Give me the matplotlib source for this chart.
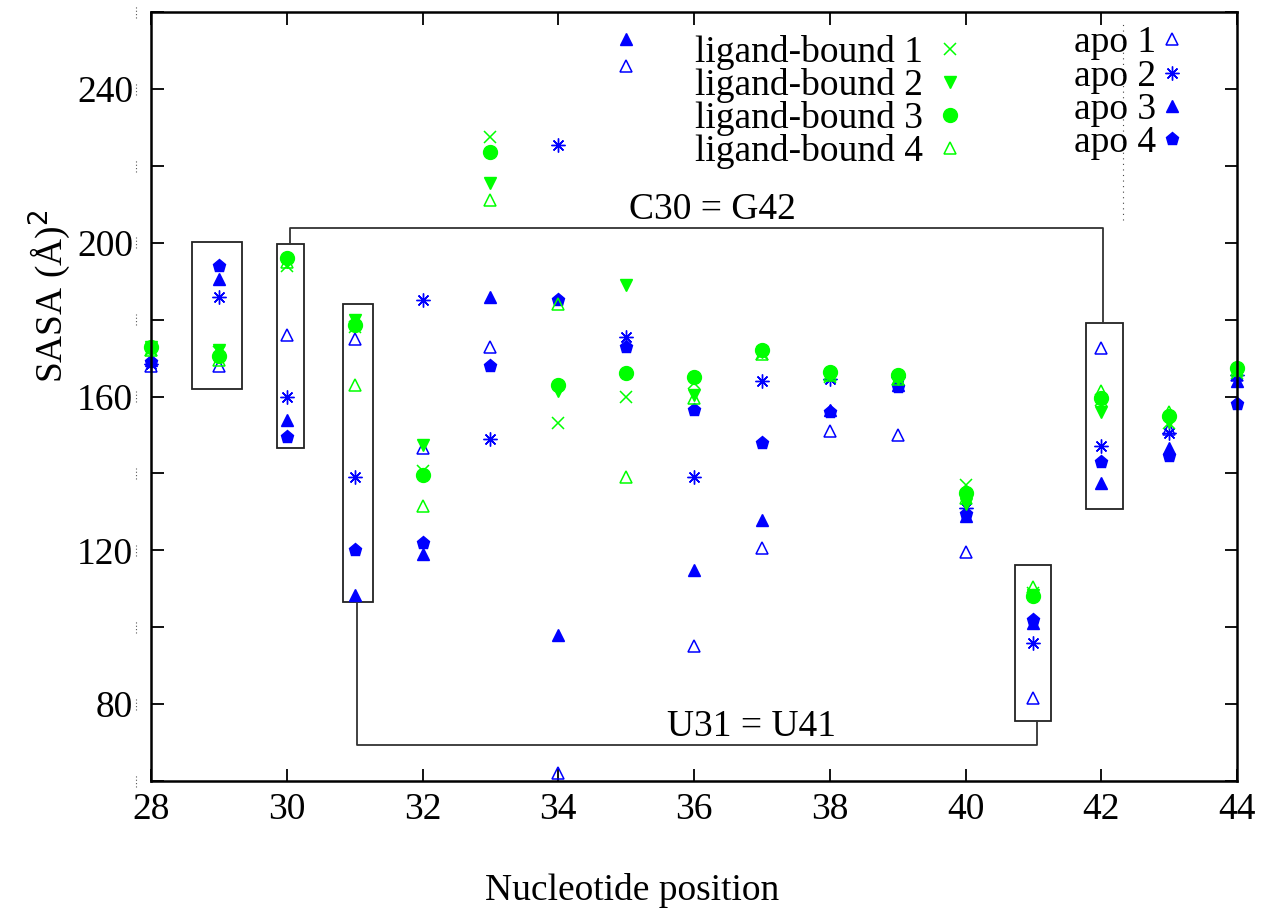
import matplotlib
matplotlib.use("Agg")
import matplotlib.pyplot as plt
import matplotlib.transforms as mtransforms
from matplotlib.patches import Rectangle

plt.rcParams['font.family'] = ['Liberation Serif', 'DejaVu Serif']

# nucleotide positions
pos = [28, 29, 30, 31, 32, 33, 34, 35, 36, 37, 38, 39, 40, 41, 42, 43, 44]

# SASA values, one list per run
lb1 = [172, 171.5, 194, 178, 140.5, 227.5, 153, 160, 163.5, 171, 165, 164.5, 137, 109, 159, 153, 166]
lb2 = [173, 172, 195, 180, 147.5, 215.5, 161.5, 189, 160.5, 171.5, 165.5, 164.5, 132, 108.5, 156, 153.5, 166.5]
lb3 = [172.8, 170.5, 196, 178.5, 139.5, 223.5, 163, 166, 165, 172, 166.5, 165.5, 135, 108, 159.5, 155, 167.3]
lb4 = [172, 169.5, 195, 163, 131.5, 211, 184, 139, 159.5, 171, 165.5, 164.5, 133.5, 110.5, 161.5, 156, 167]
apo1 = [168, 168, 176, 175, 146.5, 173, 62, 246, 95, 120.5, 151, 150, 119.5, 81.5, 172.5, 151.5, 165.5]
apo2 = [168.5, 186, 160, 139, 185, 149, 225.5, 175.5, 139, 164, 164.5, 165, 131, 96, 147, 150.5, 165.5]
apo3 = [169.5, 190.5, 154, 108.5, 119, 186, 98, 253, 115, 128, 156.5, 163, 129, 101, 137.5, 146.5, 164]
apo4 = [169, 194, 149.5, 120, 122, 168, 185, 173, 156.5, 148, 156, 162.5, 129.5, 102, 143, 144.5, 158]

lb_labels = ['ligand-bound 1', 'ligand-bound 2', 'ligand-bound 3', 'ligand-bound 4']
apo_labels = ['apo 1', 'apo 2', 'apo 3', 'apo 4']

# boxes around paired nucleotides: (x0, y0, x1, y1)
boxes = [(28.60, 161.9, 29.34, 200.3),
         (29.86, 146.6, 30.25, 199.7),
         (30.83, 106.5, 31.27, 184.1),
         (40.73, 75.6, 41.26, 116.2),
         (41.78, 130.7, 42.32, 179.1)]
# brackets linking the pairs
brackets = [([30.05, 30.05, 42.03, 42.03], [199.7, 203.8, 203.8, 179.1]),
            ([31.03, 31.03, 41.05, 41.05], [106.5, 69.4, 69.4, 75.6])]
pair_text = ['C30 = G42', 'U31 = U41']
pair_xy = [(36.27, 208.5), (36.84, 74.0)]

green = '#00ff00'
blue = '#0000ff'
FS = 27

fig = plt.figure(figsize=(12.62, 9.11), dpi=100)
ax = fig.add_axes([0.1197, 0.1427, 0.8606, 0.8441])

kw = dict(linestyle='none', clip_on=False)
# apo runs
ax.plot(pos, apo1, marker='^', ms=9, mfc='none', mec=blue, mew=1.1, label=apo_labels[0], **kw)
ax.plot(pos, apo2, marker=(8, 2, 0), ms=10, color=blue, mew=1.0, label=apo_labels[1], **kw)
ax.plot(pos, apo3, marker='^', ms=8.5, color=blue, label=apo_labels[2], **kw)
ax.plot(pos, apo4, marker='p', ms=9.5, color=blue, label=apo_labels[3], **kw)
# ligand-bound runs
ax.plot(pos, lb1, marker='x', ms=9, color=green, mew=1.1, label=lb_labels[0], **kw)
ax.plot(pos, lb2, marker='v', ms=8.5, color=green, label=lb_labels[1], **kw)
ax.plot(pos, lb3, marker='o', ms=10, color=green, label=lb_labels[2], **kw)
ax.plot(pos, lb4, marker='^', ms=9, mfc='none', mec=green, mew=1.1, label=lb_labels[3], **kw)

for x0, y0, x1, y1 in boxes:
    ax.add_patch(Rectangle((x0, y0), x1 - x0, y1 - y0, fill=False,
                           ec='#222222', lw=1.3, zorder=1))
for bx, by in brackets:
    ax.plot(bx, by, color='#333333', lw=1.3, zorder=1)
for t, (tx, ty) in zip(pair_text, pair_xy):
    ax.text(tx, ty, t, fontsize=FS, ha='center', va='center')

# stray dotted line near the key
ax.plot([42.32, 42.32], [206, 258], color='#444444', lw=0.8, ls=(0, (1, 4)))

ax.set_xlim(28, 44)
ax.set_ylim(60, 260)
ax.set_xticks(range(28, 45, 2))
ax.set_yticks(range(80, 241, 40))
ax.set_yticks(range(60, 261, 20), minor=True)
ax.tick_params(which='both', direction='in', length=9, width=1.3,
               top=True, right=True, labelsize=FS)
ax.tick_params(axis='y', pad=13)
ax.tick_params(axis='x', pad=8)
for s in ax.spines.values():
    s.set_linewidth(1.8)

# dotted marks just outside the left axis
trans = mtransforms.blended_transform_factory(ax.transAxes, ax.transData)
for yv in range(60, 261, 20):
    ax.plot([-0.014, -0.014], [yv - 1.5, yv + 1.5], transform=trans, color='#555555',
            lw=0.8, ls=(0, (1, 2)), clip_on=False)

ax.set_ylabel('SASA (Å)$^2$', fontsize=FS)
ax.yaxis.set_label_coords(-0.072, 0.63)
ax.set_xlabel('Nucleotide position', fontsize=FS)
ax.xaxis.set_label_coords(0.443, -0.120)

h, l = ax.get_legend_handles_labels()
leg1 = ax.legend(h[4:], l[4:], loc='upper right', bbox_to_anchor=(0.753, 0.970),
                 frameon=False, markerfirst=False, fontsize=FS, handlelength=1.0,
                 handletextpad=0.22, labelspacing=-0.05, borderpad=0, borderaxespad=0)
ax.add_artist(leg1)
ax.legend(h[:4], l[:4], loc='upper right', bbox_to_anchor=(0.950, 0.982),
          frameon=False, markerfirst=False, fontsize=FS, handlelength=0.6,
          handletextpad=0.1, labelspacing=-0.03, borderpad=0, borderaxespad=0)

fig.savefig('out.png', dpi=100)
